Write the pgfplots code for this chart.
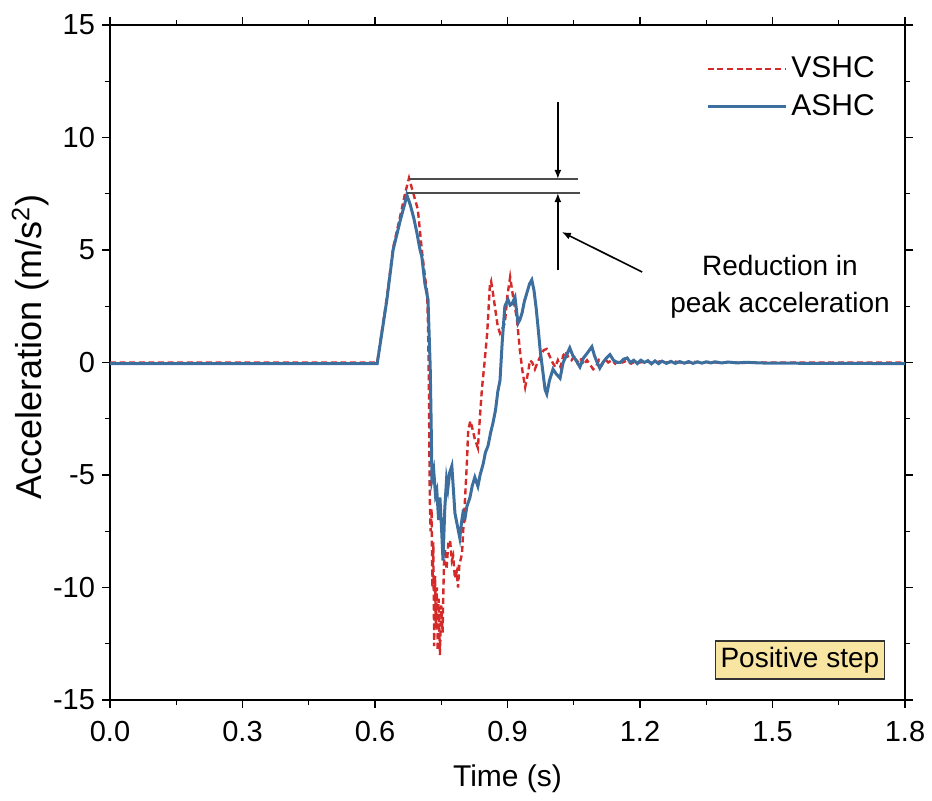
\documentclass[border=0pt]{standalone}
\usepackage{fontspec}
\setmainfont{Liberation Sans}
\usepackage{pgfplots}
\pgfplotsset{compat=1.18}
\usetikzlibrary{arrows.meta}

\definecolor{vshc}{HTML}{D42A2A}
\definecolor{ashc}{HTML}{3C6E9E}
\definecolor{tagfill}{HTML}{F8E5A2}

\begin{document}
\begin{tikzpicture}
\useasboundingbox (-55pt,-50.5pt) rectangle (411pt,350pt);
\begin{axis}[
  at={(0,0)}, anchor=south west,
  scale only axis,
  width=397.5pt, height=337.5pt,
  xmin=0, xmax=1.8, ymin=-15, ymax=15,
  xtick={0,0.3,0.6,0.9,1.2,1.5,1.8},
  ytick={-15,-10,-5,0,5,10,15},
  minor x tick num=1, minor y tick num=1,
  tick align=outside,
  major tick length=4pt, minor tick length=2.5pt,
  every tick/.style={black, line width=0.7pt},
  axis line style={black, line width=0.8pt},
  /pgf/number format/assume math mode=true,
  ticklabel style={font=\fontsize{14.5}{16}\selectfont},
  xticklabel style={yshift=-3pt, /pgf/number format/.cd, fixed, fixed zerofill, precision=1},
  yticklabel style={/pgf/number format/.cd, fixed, precision=0},
  xlabel={Time (s)},
  ylabel={Acceleration (m/s\textsuperscript{2})},
  xlabel style={at={(axis description cs:0.5,-0.116)}, anchor=center,
    font=\fontsize{15}{17}\selectfont},
  ylabel style={at={(axis description cs:-0.1,0.523)}, anchor=center,
    font=\fontsize{18}{20}\selectfont},
  legend style={at={(rel axis cs:0.975,0.965)}, anchor=north east,
    draw=none, fill=none, font=\fontsize{15}{17}\selectfont,
    row sep=3pt},
  legend cell align=left,
  legend image code/.code={\draw[#1] (0pt,0pt) -- (39pt,0pt);},
  clip=true,
]

% VSHC response
\addplot[vshc, line width=1.2pt, dash pattern=on 3pt off 1.8pt] coordinates {
(0,0) (0.605,0) (0.627,2.9) (0.641,5.1) (0.657,6.5) (0.668,7.5) (0.677,8.2)
(0.687,7.5) (0.697,6.8) (0.706,5.0) (0.712,4.0) (0.718,3.1) (0.720,1.75) (0.722,-1.0)
(0.724,-6.0) (0.726,-7.5) (0.728,-6.5) (0.730,-10.0) (0.732,-8.0) (0.734,-12.6)
(0.736,-9.5) (0.738,-11.8) (0.740,-10.0) (0.742,-12.8) (0.744,-10.5) (0.747,-13.0)
(0.750,-10.8) (0.753,-12.0) (0.756,-9.0) (0.759,-8.3) (0.762,-9.2) (0.766,-8.0) (0.770,-7.9)
(0.774,-8.8) (0.777,-8.6) (0.781,-9.6) (0.785,-9.3) (0.788,-10.0) (0.791,-9.0)
(0.797,-8.5) (0.801,-7.0) (0.804,-6.0) (0.808,-4.5) (0.811,-3.0) (0.816,-2.6)
(0.820,-2.9) (0.826,-3.4) (0.833,-3.8) (0.838,-2.3) (0.842,-1.2) (0.848,0.0)
(0.854,1.3) (0.860,3.4) (0.863,3.6) (0.867,3.1) (0.872,2.4) (0.878,1.6) (0.883,1.3)
(0.888,1.5) (0.894,1.75) (0.900,3.0) (0.906,3.8) (0.912,3.0) (0.917,2.4) (0.921,2.0)
(0.928,0.55) (0.934,-0.4) (0.940,-1.1) (0.946,-0.5) (0.951,0.1) (0.956,0.0)
(0.962,-0.3) (0.968,0.0) (0.975,0.3) (0.982,0.55) (0.989,0.6) (0.995,0.3)
(1.002,0.0) (1.008,-0.2) (1.014,0.1) (1.020,-0.2) (1.026,0.3) (1.032,0.5)
(1.038,0.2) (1.045,0.1) (1.052,0.3) (1.058,0.0) (1.065,0.2) (1.072,-0.1)
(1.080,0.1) (1.087,-0.1) (1.094,-0.3) (1.100,-0.2) (1.107,0.1) (1.114,-0.1)
(1.121,0.15) (1.128,0.0) (1.136,0.1) (1.144,-0.05) (1.152,0.1) (1.160,0.0)
(1.170,0.08) (1.180,-0.05) (1.190,0.06) (1.200,0.0) (1.215,0.05) (1.230,-0.04)
(1.245,0.05) (1.260,0.0) (1.280,0.04) (1.300,-0.03) (1.320,0.03) (1.340,0.0)
(1.360,0.03) (1.380,-0.02) (1.400,0.02) (1.430,-0.02) (1.460,0.0) (1.500,0.0)
(1.800,0.0)
};
\addlegendentry{VSHC}

% ASHC response
\addplot[ashc, line width=1.5pt] coordinates {
(0,-0.05) (0.605,-0.05) (0.627,2.8) (0.641,5.0) (0.657,6.3) (0.668,7.1) (0.672,7.45)
(0.680,7.0) (0.688,6.4) (0.695,5.75) (0.701,5.1) (0.706,4.7) (0.713,3.5) (0.720,2.8)
(0.725,-0.2) (0.727,-2.5) (0.729,-5.2) (0.733,-4.8) (0.737,-5.9) (0.740,-5.7)
(0.744,-7.0) (0.747,-6.0) (0.751,-7.5) (0.754,-8.8) (0.758,-6.5) (0.762,-5.2)
(0.765,-5.6) (0.769,-4.9) (0.774,-4.6) (0.778,-5.8) (0.781,-6.7) (0.786,-7.2)
(0.792,-7.8) (0.796,-7.1) (0.799,-6.7) (0.804,-6.9) (0.808,-6.4) (0.815,-6.0)
(0.820,-5.5) (0.826,-5.1) (0.833,-5.5) (0.838,-5.0) (0.845,-4.5) (0.850,-4.0)
(0.856,-3.7) (0.862,-3.1) (0.867,-2.7) (0.873,-2.1) (0.878,-1.3) (0.883,-0.8)
(0.888,0.9) (0.894,2.5) (0.901,2.8) (0.906,2.55) (0.910,2.6) (0.917,2.9)
(0.921,2.2) (0.924,1.75) (0.928,1.9) (0.933,2.2) (0.938,2.7) (0.944,3.1)
(0.950,3.5) (0.955,3.67) (0.960,3.2) (0.965,2.4) (0.969,1.6) (0.974,0.55)
(0.980,-0.4) (0.985,-1.2) (0.989,-1.4) (0.995,-0.8) (1.003,-0.3) (1.010,-0.5)
(1.019,-0.7) (1.026,0.0) (1.033,0.3) (1.041,0.65) (1.048,0.3) (1.055,0.1)
(1.064,-0.2) (1.072,0.2) (1.080,0.4) (1.091,0.7) (1.097,0.3) (1.103,0.0)
(1.109,-0.25) (1.116,0.0) (1.124,0.2) (1.132,0.35) (1.140,0.1) (1.148,0.0)
(1.155,0.0) (1.163,0.15) (1.171,0.2) (1.178,0.0) (1.186,0.1) (1.194,-0.05)
(1.202,0.1) (1.210,0.0) (1.218,0.08) (1.226,-0.06) (1.234,0.07) (1.242,-0.05)
(1.250,0.06) (1.260,-0.04) (1.270,0.05) (1.280,-0.04) (1.290,0.04) (1.300,-0.03)
(1.310,0.04) (1.320,-0.04) (1.330,0.03) (1.340,-0.03) (1.350,0.03) (1.360,-0.02)
(1.370,0.03) (1.385,-0.02) (1.400,0.02) (1.420,-0.02) (1.440,0.01) (1.470,-0.02)
(1.500,-0.03) (1.800,-0.05)
};
\addlegendentry{ASHC}

% peak-reduction marker
\draw[black!70, line width=0.9pt] (axis cs:0.677,8.16) -- (axis cs:1.060,8.16);
\draw[black!70, line width=0.9pt] (axis cs:0.672,7.53) -- (axis cs:1.064,7.53);
\draw[-{Latex[length=4.5pt,width=3.5pt]}, line width=0.8pt] (axis cs:1.014,11.58) -- (axis cs:1.014,8.16);
\draw[-{Latex[length=4.5pt,width=3.5pt]}, line width=0.8pt] (axis cs:1.014,4.11) -- (axis cs:1.014,7.53);
\draw[-{Latex[length=4.5pt,width=3.5pt]}, line width=0.8pt] (axis cs:1.205,4.02) -- (axis cs:1.023,5.8);
\node[align=center, font=\fontsize{14}{18.5}\selectfont] at (axis cs:1.517,3.38)
  {Reduction in\\peak acceleration};

\node[draw=black!80, fill=tagfill, line width=0.7pt, inner xsep=2.5pt, inner ysep=3pt,
  font=\fontsize{14}{16}\selectfont] at (axis cs:1.562,-13.22) {Positive step};
\end{axis}
\end{tikzpicture}
\end{document}
